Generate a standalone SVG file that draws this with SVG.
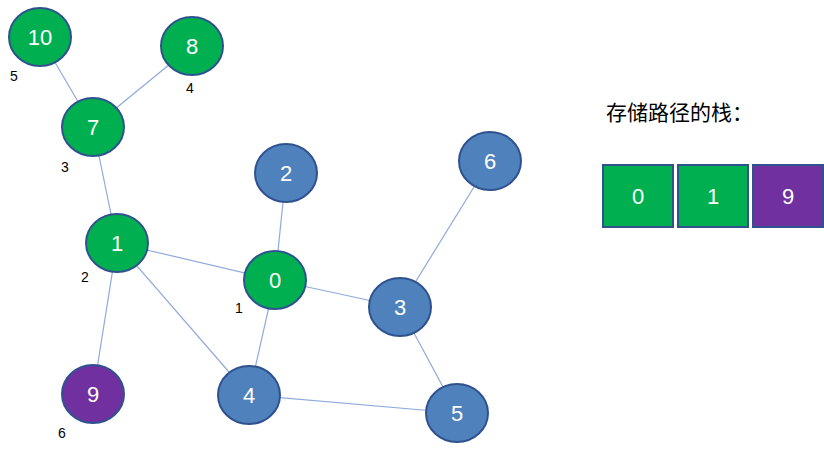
<svg xmlns="http://www.w3.org/2000/svg" width="824" height="451" viewBox="0 0 824 451">
<style>
.n{stroke-width:2}
.g{fill:#00b050;stroke:#2f528f}
.b{fill:#4f81bd;stroke:#2f528f}
.p{fill:#7030a0;stroke:#2f528f}
.t{font-family:"Liberation Sans","DejaVu Sans",sans-serif;font-size:22px;fill:#fff;text-anchor:middle;dominant-baseline:central}
.s{font-family:"Liberation Sans","DejaVu Sans",sans-serif;font-size:14px;fill:#000;text-anchor:middle}
.e{stroke:#8eaadb;stroke-width:1.2}
.box{stroke:#2f528f;stroke-width:2}
</style>
<rect width="824" height="451" fill="#fff"/>
<g id="connectors">
<line class="e" x1="40" y1="37" x2="93" y2="127"/>
<line class="e" x1="192" y1="46" x2="93" y2="127"/>
<line class="e" x1="93" y1="127" x2="117" y2="243"/>
<line class="e" x1="117" y1="243" x2="275" y2="280"/>
<line class="e" x1="117" y1="243" x2="93" y2="394"/>
<line class="e" x1="117" y1="243" x2="249" y2="395"/>
<line class="e" x1="286" y1="173" x2="275" y2="280"/>
<line class="e" x1="275" y1="280" x2="400" y2="307"/>
<line class="e" x1="275" y1="280" x2="249" y2="395"/>
<line class="e" x1="490" y1="161" x2="400" y2="307"/>
<line class="e" x1="400" y1="307" x2="457" y2="413"/>
<line class="e" x1="249" y1="395" x2="457" y2="413"/>
</g>
<g id="n10"><ellipse class="n g" cx="40" cy="37" rx="31" ry="29"/><text class="t" x="40" y="37">10</text></g>
<g id="n8"><ellipse class="n g" cx="192" cy="46" rx="31" ry="29"/><text class="t" x="192" y="46">8</text></g>
<g id="n7"><ellipse class="n g" cx="93" cy="127" rx="31" ry="29"/><text class="t" x="93" y="127">7</text></g>
<g id="n1"><ellipse class="n g" cx="117" cy="243" rx="31" ry="29"/><text class="t" x="117" y="243">1</text></g>
<g id="n2"><ellipse class="n b" cx="286" cy="173" rx="31" ry="29"/><text class="t" x="286" y="173">2</text></g>
<g id="n6"><ellipse class="n b" cx="490" cy="161" rx="31" ry="29"/><text class="t" x="490" y="161">6</text></g>
<g id="n0"><ellipse class="n g" cx="275" cy="280" rx="31" ry="29"/><text class="t" x="275" y="280">0</text></g>
<g id="n3"><ellipse class="n b" cx="400" cy="307" rx="31" ry="29"/><text class="t" x="400" y="307">3</text></g>
<g id="n9"><ellipse class="n p" cx="93" cy="394" rx="31" ry="29"/><text class="t" x="93" y="394">9</text></g>
<g id="n4"><ellipse class="n b" cx="249" cy="395" rx="31" ry="29"/><text class="t" x="249" y="395">4</text></g>
<g id="n5"><ellipse class="n b" cx="457" cy="413" rx="31" ry="29"/><text class="t" x="457" y="413">5</text></g>
<g id="labels">
<text class="s" x="14" y="81">5</text>
<text class="s" x="190" y="93">4</text>
<text class="s" x="65" y="172">3</text>
<text class="s" x="85" y="282">2</text>
<text class="s" x="239" y="313">1</text>
<text class="s" x="62" y="438">6</text>
</g>
<g id="stack">
<text x="606" y="120" style="font-family:'Liberation Sans','Noto Sans CJK SC',sans-serif;font-size:21px;fill:#000">存储路径的栈：</text>
<rect class="box" x="603" y="165" width="70" height="62" fill="#00b050"/>
<text class="t" x="638" y="196">0</text>
<rect class="box" x="678" y="165" width="70" height="62" fill="#00b050"/>
<text class="t" x="713" y="196">1</text>
<rect class="box" x="753" y="165" width="70" height="62" fill="#7030a0"/>
<text class="t" x="788" y="196">9</text>
</g>
</svg>
